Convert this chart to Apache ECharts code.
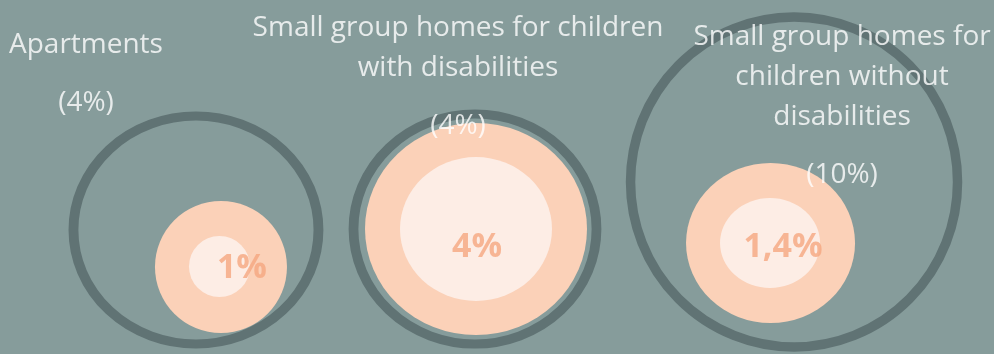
<!DOCTYPE html>
<html><head><meta charset="utf-8">
<script src="https://cdn.jsdelivr.net/npm/echarts@6/dist/echarts.min.js"></script>
<style>html,body{margin:0;padding:0;background:#869c9b}#c{width:994px;height:354px}</style>
</head><body><div id="c"></div>
<script>
// ---- data ----
const categories = ['Apartments', 'Small group homes for children\nwith disabilities', 'Small group homes for\nchildren without\ndisabilities'];
const totalShare = [4, 4, 10];
const subShare = [1, 4, 1.4];
const subLabels = ['1%', '4%', '1,4%'];
const totalLabels = ['(4%)', '(4%)', '(10%)'];

// ---- layout (pixels, relative to each category anchor) ----
const ringSize = [[245, 228], [243, 230], [327, 330]];
const ringOffset = [[30.3, 1], [-22, 0], [-34.3, -47]];
const peachSize = [[132, 132], [222, 212], [169, 160]];
const peachOffset = [[55.3, 38], [-21, 0], [-57.8, 14]];
const lightSize = [[61, 61], [152, 144], [100, 90]];
const lightOffset = [[53.8, 37.5], [-21, 0], [-58.3, 14]];
const valueOffset = [[76.3, 39], [-20, 18], [-45.3, 18]];
const titleOffset = [[-79.7, -204], [-39, -221], [13.7, -212]];

const FONT = '"Open Sans", "Noto Sans", sans-serif';
const ANCHOR_Y = 0.5;

function items(values, sizes, offsets) {
  return values.map((v, i) => ({
    value: [i, ANCHOR_Y, v],
    symbolSize: sizes[i],
    symbolOffset: offsets[i]
  }));
}

const chart = echarts.init(document.getElementById('c'), null, {renderer: 'canvas'});
chart.setOption({
  backgroundColor: '#869c9b',
  animation: false,
  grid: {left: 0, right: 0, top: 104, bottom: 0},
  xAxis: {type: 'category', data: categories, show: false, boundaryGap: true},
  yAxis: {type: 'value', min: 0, max: 1, show: false},
  series: [
    {
      type: 'scatter', z: 1, symbol: 'circle',
      itemStyle: {color: '#fbd1b8', opacity: 1},
      data: items(subShare, peachSize, peachOffset)
    },
    {
      type: 'scatter', z: 2, symbol: 'circle',
      itemStyle: {color: '#fdede5', opacity: 1},
      data: items(subShare, lightSize, lightOffset)
    },
    {
      type: 'scatter', z: 3, symbol: 'circle',
      itemStyle: {color: 'rgba(0,0,0,0)', borderColor: '#607374', borderWidth: 9.5, opacity: 1},
      data: items(totalShare, ringSize, ringOffset)
    },
    {
      type: 'scatter', z: 4, symbol: 'circle', symbolSize: 2,
      itemStyle: {color: 'rgba(0,0,0,0)'},
      data: subShare.map((v, i) => ({
        value: [i, ANCHOR_Y, v],
        label: {
          show: true, position: 'inside', offset: valueOffset[i],
          formatter: subLabels[i],
          color: '#f5a680', fontSize: 34, fontWeight: 'bold', fontFamily: FONT
        }
      }))
    },
    {
      type: 'scatter', z: 5, symbol: 'circle', symbolSize: 2,
      itemStyle: {color: 'rgba(0,0,0,0)'},
      data: totalShare.map((v, i) => ({
        value: [i, ANCHOR_Y, v],
        label: {
          show: true, position: 'inside', offset: titleOffset[i],
          align: 'center', verticalAlign: 'top',
          formatter: categories[i].split('\n').map(s => '{n|' + s + '}').join('\n') + '\n{v|' + totalLabels[i] + '}',
          rich: {
            n: {color: '#ffffff', fontSize: 28, lineHeight: 40, fontFamily: FONT, align: 'center'},
            v: {color: '#ffffff', fontSize: 28, lineHeight: 76, fontFamily: FONT, align: 'center'}
          }
        }
      }))
    }
  ]
});
</script></body></html>
